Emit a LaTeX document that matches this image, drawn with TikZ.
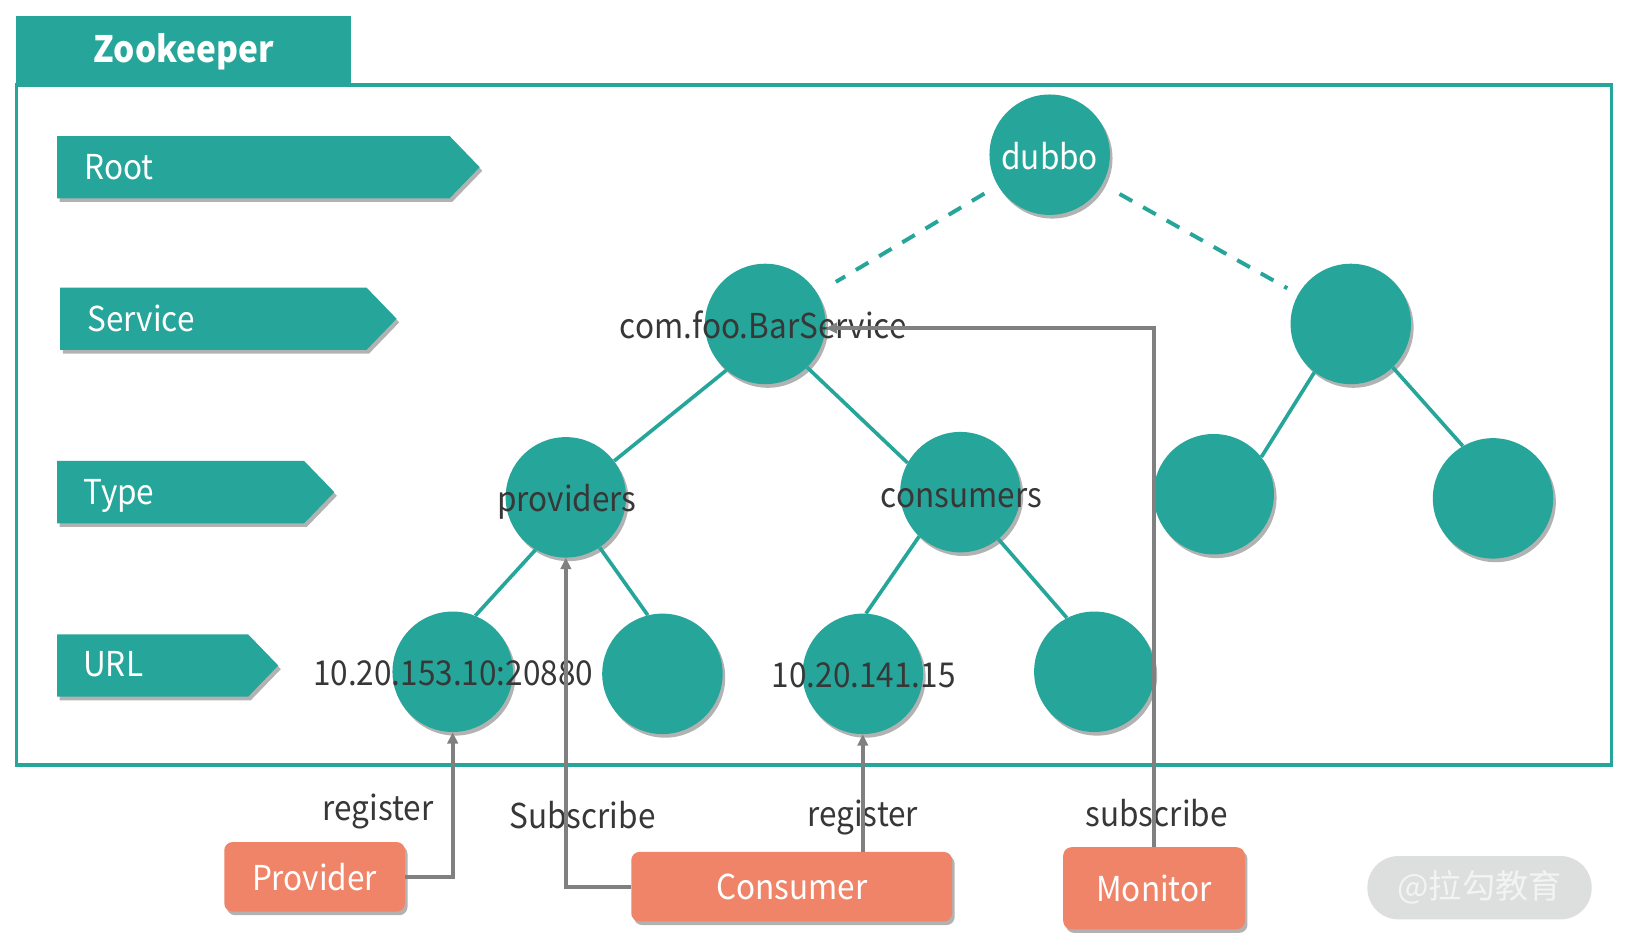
\documentclass[tikz,border=0pt]{standalone}
\usepackage{fontspec}
\setmainfont[FakeStretch=0.92]{Noto Sans CJK SC}
\newfontfamily\cjkwm{Noto Sans CJK SC}
\usetikzlibrary{shadows,arrows.meta}
\definecolor{zkteal}{RGB}{38,166,154}
\definecolor{zkorange}{RGB}{240,132,104}
\definecolor{zkgrey}{RGB}{128,128,128}
\definecolor{zktext}{RGB}{55,55,55}
\definecolor{zkwm}{RGB}{220,223,221}
\begin{document}
\begin{tikzpicture}[x=1pt,y=-1pt,
  shad/.style={drop shadow={shadow xshift=2.5pt,shadow yshift=-3.5pt,opacity=0.3,fill=black}},
  txt/.style={font=\fontsize{33}{40}\selectfont, text=zktext, inner sep=0pt, anchor=base},
  wtxt/.style={font=\fontsize{33}{40}\selectfont, text=white, inner sep=0pt, anchor=base},
  circ/.style={circle, fill=zkteal, minimum size=116pt, inner sep=0pt, shad},
  chev/.style={fill=zkteal, shad},
  obox/.style={fill=zkorange, rounded corners=8pt, inner sep=0pt, text=white, font=\fontsize{33}{40}\selectfont, shad},
  tree/.style={draw=zkteal, line width=3.5pt},
  dline/.style={draw=zkteal, line width=3.8pt, dash pattern=on 14pt off 12pt},
  garrow/.style={draw=zkgrey, line width=3.5pt, -{Triangle[length=11pt,width=10pt]}},
  gline/.style={draw=zkgrey, line width=3.5pt}
]
\useasboundingbox (0,0) rectangle (1568,907);
\fill[white] (0,0) rectangle (1568,907);

% Zookeeper frame
\fill[zkteal] (15,15) rectangle (338,82);
\node[wtxt, font=\bfseries\fontsize{35}{42}\selectfont] (zk) at (177,60) {Zookeeper};
\draw[zkteal, line width=3.5pt] (16,82) rectangle (1552,737);

% level chevrons
\path[chev] (55,131) -- (433,131) -- (462,161) -- (433,191) -- (55,191) -- cycle;
\path[chev] (58,277) -- (353,277) -- (382,307) -- (353,337) -- (58,337) -- cycle;
\path[chev] (55,444) -- (293,444) -- (322,474) -- (293,504) -- (55,504) -- cycle;
\path[chev] (55,611) -- (239,611) -- (268,641) -- (239,671) -- (55,671) -- cycle;
\node[wtxt, anchor=base west] (lroot) at (81,173) {Root};
\node[wtxt, anchor=base west] (lserv) at (84,319) {Service};
\node[wtxt, anchor=base west] (ltype) at (80,486) {Type};
\node[wtxt, anchor=base west] (lurl) at (80,652) {URL};

% tree nodes
\node[circ] (dubbo) at (1011,149) {};
\node[circ] (bar) at (737,312) {};
\node[circ] (srv2) at (1301,312) {};
\node[circ] (prov) at (545,479) {};
\node[circ] (cons) at (925,474) {};
\node[circ] (t3) at (1169,476) {};
\node[circ] (t4) at (1438,480) {};
\node[circ] (u1) at (436,647) {};
\node[circ] (u2) at (638,649) {};
\node[circ] (u3) at (831,649) {};
\node[circ] (u4) at (1054,647) {};

% tree edges
\draw[dline, shorten <=15pt, shorten >=21pt] (dubbo) -- (bar);
\draw[dline, shorten <=19pt, shorten >=12pt] (dubbo) -- (srv2);
\draw[tree] (bar.230) -- (prov.37);
\draw[tree] (bar.314) -- (cons.151);
\draw[tree] (srv2.233) -- (t3.38);
\draw[tree] (srv2.314) -- (t4.120);
\draw[tree] (prov.240) -- (u1.68);
\draw[tree] (prov.304) -- (u2.104);
\draw[tree] (cons.227) -- (u3.87);
\draw[tree] (cons.309) -- (u4.117);

% node texts
\node[wtxt] (tdubbo) at (1011,163) {dubbo};
\node[txt] (tbar) at (735,326) {com.foo.BarService};
\node[txt] (tprov) at (546,493) {providers};
\node[txt] (tcons) at (926,488.5) {consumers};
\node[txt] (tu1) at (436.5,660) {10.20.153.10:20880};
\node[txt] (tu3) at (832,662) {10.20.141.15};

% clients
\node[obox, minimum width=174pt, minimum height=67pt] (pv) at (303,844.5) {Provider};
\node[obox, minimum width=309pt, minimum height=67pt] (cs) at (762.5,854) {Consumer};
\node[obox, minimum width=175pt, minimum height=79pt] (mn) at (1111.5,855.5) {Monitor};

% client labels
\node[txt] (lreg1) at (364,790) {register};
\node[txt] (lsub1) at (561,797.5) {Subscribe};
\node[txt] (lreg2) at (831,796) {register};
\node[txt] (lsub2) at (1114,796) {subscribe};

% client connectors
\draw[garrow] (pv.east) -| (u1);
\draw[garrow] (cs.west) -| (prov);
\draw[garrow] (cs.north -| u3.center) -- (u3);
\draw[garrow] (mn.north) |- ([yshift=-4pt]bar.east);

% watermark
\node[fill=zkwm, rounded corners=30pt, minimum width=216pt, minimum height=61pt, inner sep=0pt,
      text={rgb,255:red,243;green,243;blue,243}, font=\cjkwm\fontsize{32}{38}\selectfont] (wm) at (1425,855) {@拉勾教育};
\end{tikzpicture}
\end{document}
